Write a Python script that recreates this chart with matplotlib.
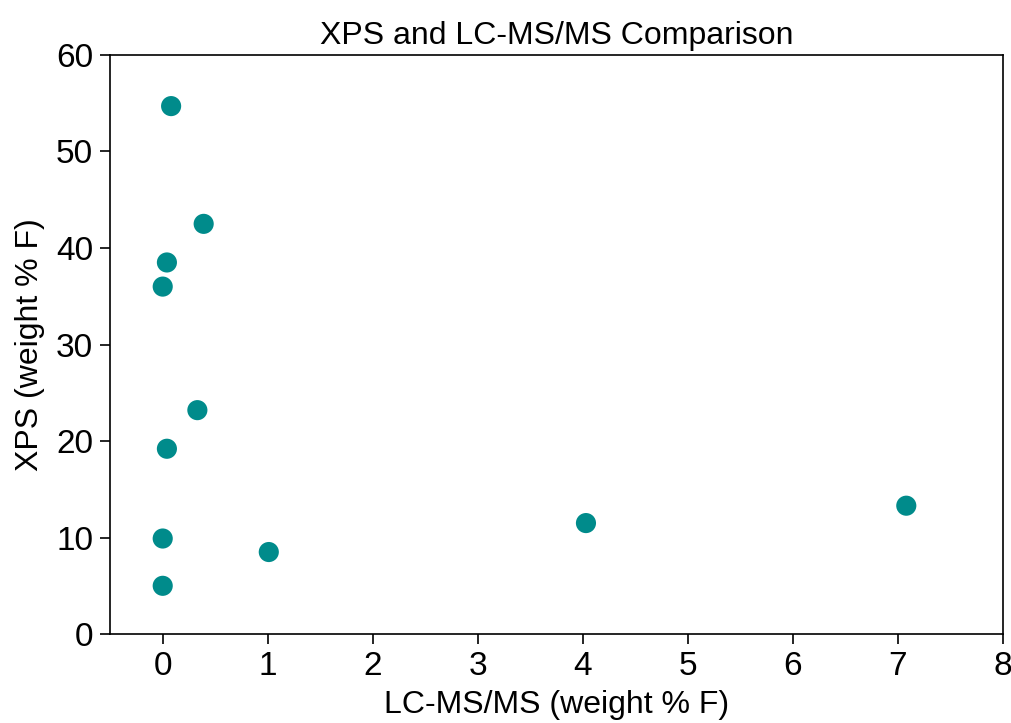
import matplotlib
matplotlib.use('Agg')
import matplotlib.pyplot as plt

plt.rcParams['font.family'] = ['Liberation Sans', 'DejaVu Sans']

# LC-MS/MS vs XPS fluorine content (weight % F)
lcms = [0.08, 0.39, 0.04, 0.0, 0.33, 0.04, 0.0, 0.0, 1.01, 4.03, 7.08]
xps = [54.7, 42.5, 38.5, 36.0, 23.2, 19.2, 9.9, 5.0, 8.5, 11.5, 13.3]


def main() -> None:
    fig = plt.figure(figsize=(10.11, 7.23), dpi=100)
    ax = fig.add_axes([0.109, 0.123, 0.883, 0.801])

    ax.scatter(lcms, xps, s=210, color='#008b8b', edgecolors='none', zorder=3)

    ax.set_xlim(-0.5, 8)
    ax.set_ylim(0, 60)
    ax.set_xticks(range(0, 9))
    ax.set_yticks(range(0, 61, 10))
    ax.tick_params(labelsize=24, length=7.2, width=1.2, pad=5)
    for s in ax.spines.values():
        s.set_linewidth(1.2)

    ax.set_xlabel('LC-MS/MS (weight % F)', fontsize=23, labelpad=6)
    ax.set_ylabel('XPS (weight % F)', fontsize=23, labelpad=8)
    ax.set_title('XPS and LC-MS/MS Comparison', fontsize=23, pad=8)

    fig.savefig('out.png', dpi=100)


if __name__ == '__main__':
    main()
